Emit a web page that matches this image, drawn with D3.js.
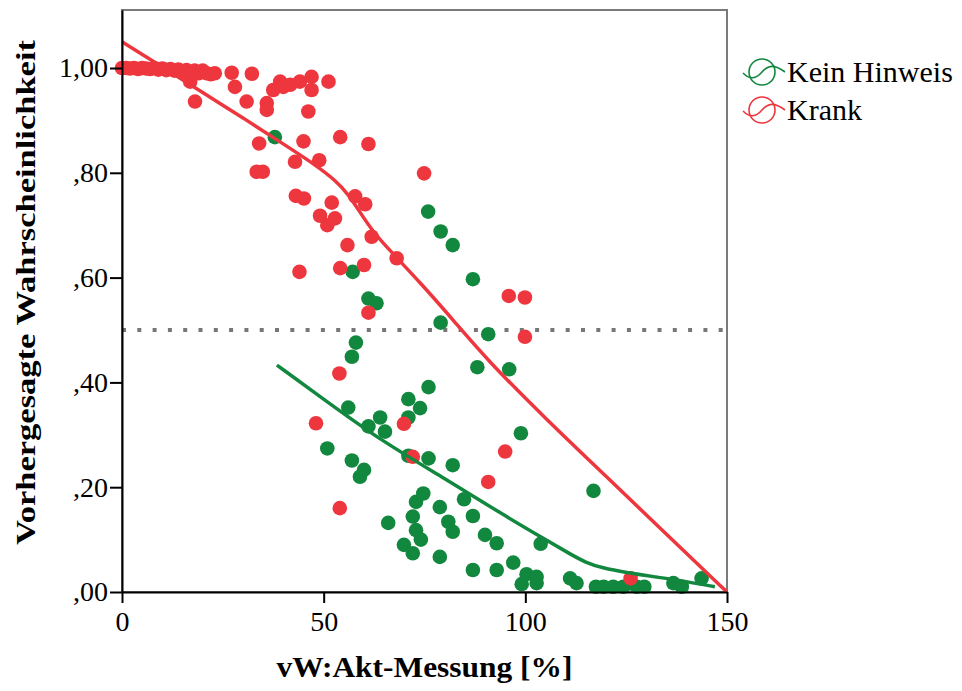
<!DOCTYPE html>
<html>
<head>
<meta charset="utf-8">
<script src="https://cdn.jsdelivr.net/npm/d3@7"></script>
<style>
  html, body { margin: 0; padding: 0; background: #fff; }
  svg { display: block; }
</style>
</head>
<body>
<svg id="chart" width="962" height="691"></svg>
<script>
// ---------- data ----------
const xTicks = [0, 50, 100, 150];
const yTicks = [0, 0.2, 0.4, 0.6, 0.8, 1.0];
const seriesNames = ["Kein Hinweis", "Krank"];

// Krank (red) points
const krankX = [0,1,2,3,4,5,6,7,8,9,10,11,12,13,14,15,16,17,18,19,20,21,22,23,
  16.9,18.1,27.2,32.2,28,30.9,35.9,35.9,37.5,39.2,40,41.7,44.1,47,47,51.2,46.2,
  34,45,54.1,61.1,42.9,48.9,33.4,34.9,74.9,
  43.1,45.1,52,49.1,52.8,50.9,57.8,60.3,61.9,68.1,55.9,44,54.1,60,61.1,
  95.9,99.9,99.9,53.9,48.1,69.9,95,72.1,90.8,54,126.1];
const krankY = [1.0,1.0,0.999,1.0,0.998,1.0,0.999,0.998,1.0,0.997,0.999,0.996,0.998,0.995,0.997,0.993,0.996,0.99,0.995,0.99,0.995,0.99,0.988,0.99,
  0.974,0.936,0.991,0.989,0.964,0.936,0.933,0.92,0.958,0.974,0.964,0.968,0.974,0.983,0.958,0.974,0.917,
  0.856,0.86,0.868,0.855,0.821,0.824,0.802,0.802,0.799,
  0.756,0.751,0.743,0.718,0.713,0.70,0.755,0.74,0.678,0.637,0.662,0.611,0.618,0.624,0.533,
  0.565,0.562,0.487,0.417,0.322,0.321,0.268,0.258,0.21,0.16,0.026];

// Kein Hinweis (green) points
const hinweisX = [37.9,75.9,79,82,87,79,90.8,57.2,61.1,63.1,58,57,
  88.1,96,76,71,73.9,56.1,64,61.1,65.2,71,98.9,50.9,57,60,59,71,76,82,
  74.7,72.9,78.8,84.8,66,72.1,80.9,82,87,72.9,74.1,90,92.9,69.9,72.1,78.8,103.8,
  87,92.9,97,100.3,102.8,99.1,102.8,111.1,112.7,116.9,
  117.5,119.4,121.8,124.3,127.6,129.5,136.7,138.8,143.7];
const hinweisY = [0.868,0.726,0.688,0.662,0.597,0.514,0.492,0.611,0.56,0.551,0.476,0.449,
  0.429,0.425,0.391,0.368,0.351,0.352,0.333,0.316,0.306,0.333,0.303,0.274,0.251,0.233,0.22,0.26,0.255,0.242,
  0.188,0.172,0.162,0.177,0.132,0.144,0.134,0.115,0.145,0.118,0.1,0.109,0.093,0.09,0.074,0.067,0.092,
  0.042,0.042,0.056,0.034,0.029,0.015,0.017,0.026,0.017,0.193,
  0.01,0.01,0.01,0.01,0.01,0.01,0.017,0.01,0.026];

// fit lines
const krankFitX = [0,10,20,30,40,48,53,56,59,62,66,74,82,90.5,105.4,120,135,150];
const krankFitY = [1.05,1.002,0.953,0.905,0.855,0.815,0.785,0.76,0.725,0.69,0.655,0.59,0.52,0.443,0.328,0.221,0.110,0.0];
const hinweisFitX = [38.4,50,64,80.6,93.7,105,111,115,119,125,132,140,147];
const hinweisFitY = [0.433,0.368,0.29,0.214,0.151,0.10,0.073,0.056,0.046,0.037,0.029,0.02,0.01];

const refLine = 0.5;

// ---------- styles ----------
const red = "#ee363e";
const green = "#12883f";
const margin = {left: 122, top: 10, right: 235, bottom: 99};
const W = 962, H = 691;
const FONT = "Liberation Serif";

const svg = d3.select("#chart");
const x = d3.scaleLinear().domain([0, 150]).range([margin.left, W - margin.right]);
const y = d3.scaleLinear().domain([0, 1.1107]).range([H - margin.bottom, margin.top]);

const fmt = v => d3.format(".2f")(v).replace(".", ",").replace(/^0/, "");

// frame (top/right gray)
svg.append("rect")
  .attr("x", x(0)).attr("y", y(1.1107))
  .attr("width", x(150) - x(0)).attr("height", y(0) - y(1.1107))
  .attr("fill", "none").attr("stroke", "#7a7a7a").attr("stroke-width", 2);

// reference dotted line
svg.append("line")
  .attr("x1", x(0)).attr("x2", x(150))
  .attr("y1", y(refLine)).attr("y2", y(refLine))
  .attr("stroke", "#777").attr("stroke-width", 4)
  .attr("stroke-dasharray", "4,11.3");

// points
const gPts = svg.append("g");
gPts.selectAll("circle.h").data(hinweisX.map((d, i) => [d, hinweisY[i]]))
  .join("circle").attr("class", "h")
  .attr("cx", d => x(d[0])).attr("cy", d => y(d[1])).attr("r", 7.3)
  .attr("fill", green);
gPts.selectAll("circle.k").data(krankX.map((d, i) => [d, krankY[i]]))
  .join("circle").attr("class", "k")
  .attr("cx", d => x(d[0])).attr("cy", d => y(d[1])).attr("r", 7.3)
  .attr("fill", red);

// fit lines
const line = d3.line().x(d => x(d[0])).y(d => y(d[1])).curve(d3.curveBasis);
svg.append("path").datum(hinweisFitX.map((d, i) => [d, hinweisFitY[i]]))
  .attr("d", line).attr("fill", "none").attr("stroke", green).attr("stroke-width", 3.5);
svg.append("path").datum(krankFitX.map((d, i) => [d, krankFitY[i]]))
  .attr("d", line).attr("fill", "none").attr("stroke", red).attr("stroke-width", 3.5);

// axes
const yAxis = d3.axisLeft(y).tickValues(yTicks).tickFormat(fmt).tickSize(12).tickSizeOuter(0).tickPadding(2);
const gy = svg.append("g").attr("transform", `translate(${x(0)},0)`).call(yAxis);
const xAxis = d3.axisBottom(x).tickValues(xTicks).tickFormat(d3.format("d")).tickSize(11).tickSizeOuter(0).tickPadding(8);
const gx = svg.append("g").attr("transform", `translate(0,${y(0)})`).call(xAxis);
[gx, gy].forEach(g => {
  g.attr("font-family", FONT).attr("font-size", 28);
  g.select(".domain").attr("stroke", "#000").attr("stroke-width", 2);
  g.selectAll(".tick line").attr("stroke", "#000").attr("stroke-width", 2);
  g.selectAll(".tick text").attr("font-family", FONT).attr("font-size", 28).attr("fill", "#000");
});

// axis titles
svg.append("text")
  .attr("x", (x(0) + x(150)) / 2).attr("y", 677)
  .attr("text-anchor", "middle").attr("font-family", FONT)
  .attr("textLength", 296).attr("lengthAdjust", "spacingAndGlyphs")
  .attr("font-size", 29).attr("font-weight", "bold")
  .text("vW:Akt-Messung [%]");

svg.append("text")
  .attr("transform", `translate(35,${(40 + 545) / 2}) rotate(-90)`)
  .attr("text-anchor", "middle").attr("font-family", FONT)
  .attr("textLength", 505).attr("lengthAdjust", "spacingAndGlyphs")
  .attr("font-size", 28).attr("font-weight", "bold")
  .text("Vorhergesagte Wahrscheinlichkeit");

// legend
const legColors = [green, red];
const leg = svg.append("g");
seriesNames.forEach((name, i) => {
  const cy = 72 + i * 38;
  const g = leg.append("g").attr("transform", `translate(762,${cy})`);
  g.append("circle").attr("r", 13).attr("fill", "none").attr("stroke", legColors[i]).attr("stroke-width", 1.6);
  g.append("path")
    .attr("d", "M-19,1 C-12,8 -6,7 0,0 C6,-7 12,-8 23,0")
    .attr("fill", "none").attr("stroke", legColors[i]).attr("stroke-width", 1.6);
  leg.append("text").attr("x", 787).attr("y", cy + 10).attr("font-family", FONT)
    .attr("font-size", 30).attr("fill", "#000").text(name);
});
</script>
</body>
</html>
